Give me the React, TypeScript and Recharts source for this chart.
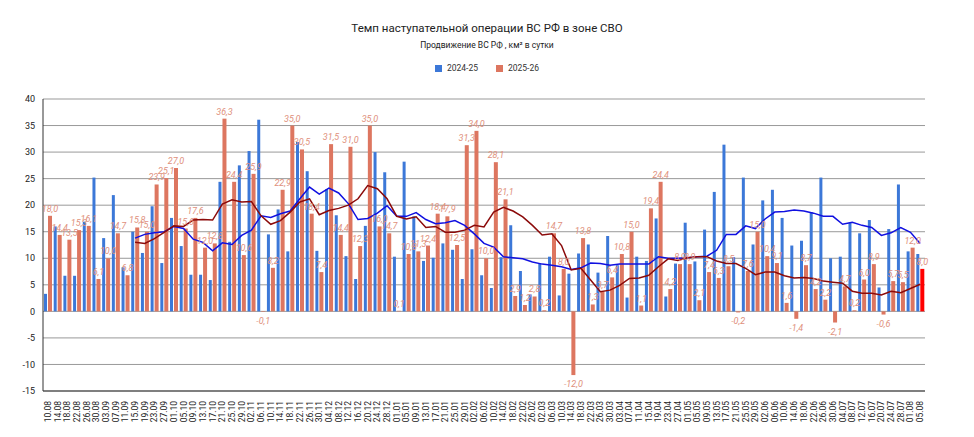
import React from "react";
import { ComposedChart, Bar, Line, XAxis, YAxis, CartesianGrid, LabelList } from "recharts";

const dates = ["10.08","14.08","18.08","22.08","26.08","30.08","03.09","07.09","11.09","15.09","19.09","23.09","27.09","01.10","05.10","09.10","13.10","17.10","21.10","25.10","29.10","02.11","06.11","10.11","14.11","18.11","22.11","26.11","30.11","04.12","08.12","12.12","16.12","20.12","24.12","28.12","01.01","05.01","09.01","13.01","17.01","21.01","25.01","29.01","02.02","06.02","10.02","14.02","18.02","22.02","26.02","02.03","06.03","10.03","14.03","18.03","22.03","26.03","30.03","03.04","07.04","11.04","15.04","19.04","23.04","27.04","01.05","05.05","09.05","13.05","17.05","21.05","25.05","29.05","02.06","06.06","10.06","14.06","18.06","22.06","26.06","30.06","04.07","08.07","12.07","16.07","20.07","24.07","28.07","01.08","05.08"];

const blue = [3.3,16.0,6.7,6.7,16.9,25.2,13.8,21.9,8.3,15.0,11.0,19.8,9.1,17.6,12.3,6.9,6.9,5.9,24.4,13.1,27.5,30.2,36.1,14.5,19.2,11.3,31.9,26.4,11.4,23.0,18.1,10.4,6.1,16.1,30.0,26.2,10.3,28.2,17.9,9.5,10.1,12.8,11.6,6.1,11.7,6.8,4.4,10.2,16.2,7.6,3.2,9.1,10.3,3.0,7.1,10.9,12.6,7.3,14.2,8.7,2.6,10.3,9.5,17.5,2.8,9.0,16.7,9.4,15.4,22.5,31.4,10.2,25.2,12.6,20.9,22.9,17.6,12.4,13.3,18.7,25.2,10.0,10.3,16.7,14.7,17.2,4.5,15.5,23.9,11.3,10.8];

const red = [18.0,14.4,13.5,15.3,16.1,6.1,10.0,14.7,6.8,15.8,15.0,23.9,25.1,27.0,15.6,17.6,12.0,12.8,36.3,24.4,10.6,25.9,-0.1,8.2,22.9,35.0,30.5,18.4,7.4,31.5,14.4,31.0,12.3,35.0,16.0,14.7,0.1,10.8,11.3,12.4,18.4,17.9,12.5,31.3,34.0,10.0,28.1,21.1,2.9,1.2,2.8,0.2,14.7,8.0,-12.0,13.8,1.3,3.7,6.4,10.8,15.0,1.1,19.4,24.4,4.2,8.9,8.9,2.1,7.4,6.3,8.5,-0.2,7.6,15.0,10.4,9.1,1.6,-1.4,8.7,4.2,2.2,-2.1,4.7,0.2,6.0,8.9,-0.6,5.7,5.5,12.0,8.0];

const maBlue = [null,null,null,null,null,null,null,null,null,13.8,14.5,14.8,15.0,16.0,15.6,13.6,13.0,11.4,12.9,12.6,14.3,15.3,18.0,17.7,18.4,18.9,21.2,23.4,22.1,23.2,22.3,20.3,17.3,17.5,18.5,19.9,17.9,17.9,18.6,17.3,16.5,16.7,17.1,16.2,14.6,12.8,12.1,10.3,10.1,9.9,9.3,8.9,8.7,8.4,7.9,8.2,9.1,9.0,8.7,8.9,8.9,8.9,8.9,10.3,10.0,10.0,10.1,10.3,10.4,11.5,14.5,14.5,16.1,15.6,17.4,18.7,18.8,19.1,18.9,18.5,17.9,17.9,16.4,16.8,16.2,15.8,14.3,14.8,15.8,14.9,12.8];

const maRed = [null,null,null,null,null,null,null,null,null,13.0,12.8,13.7,14.9,16.1,16.0,17.2,17.3,17.2,20.2,21.0,20.6,20.7,18.0,16.4,17.1,18.7,20.6,21.2,18.2,19.0,19.4,20.0,21.2,23.7,23.1,21.2,17.9,17.4,17.8,15.8,16.0,14.9,14.9,15.3,16.2,15.9,18.7,19.6,18.9,17.8,16.2,14.4,14.6,12.4,7.8,8.1,5.9,3.7,4.0,4.9,6.2,6.3,6.8,8.4,9.9,9.6,10.1,10.3,10.3,9.5,9.0,9.0,8.1,6.9,7.4,7.4,6.7,6.3,6.4,6.2,5.7,5.5,5.3,3.8,3.4,3.4,3.1,3.8,3.5,4.3,5.1];

const yTicks = [-15,-10,-5,0,5,10,15,20,25,30,35,40];

const data = dates.map((d, i) => ({ d, blue: blue[i], red: red[i], maBlue: maBlue[i], maRed: maRed[i], last: i === dates.length - 1 }));

const fmt = (v: number) => v.toFixed(1).replace(".", ",");

const RedLabel = (p: any) => {
  const { x, y, width, height, value } = p;
  if (value == null) return null;
  const top = Math.min(y, y + height);
  const bottom = Math.max(y, y + height);
  const cx = x + width / 2;
  const ty = value < 0 ? bottom + 12 : top - 4;
  return (
    <text x={cx} y={ty} textAnchor="middle" fontSize={9} fontStyle="italic" fill="#e0907c" fontFamily="Roboto, sans-serif">
      {fmt(value)}
    </text>
  );
};

const RedBar = (p: any) => {
  const { x, y, width, height, payload } = p;
  const top = Math.min(y, y + height);
  const h = Math.abs(height);
  return <rect x={x} y={top} width={width} height={h} fill={payload.last ? "#ff0000" : "#dd7660"} />;
};

export default function App() {
  return (
    <div style={{ position: "absolute", left: 0, top: 0, width: 974, height: 437, background: "#fff", fontFamily: "Roboto, sans-serif" }}>
      <div style={{ position: "absolute", top: 21, width: "100%", textAlign: "center", fontSize: 11.5, color: "#222" }}>
        Темп наступательной операции ВС РФ в зоне СВО
      </div>
      <div style={{ position: "absolute", top: 40, width: "100%", textAlign: "center", fontSize: 8.5, color: "#222" }}>
        Продвижение ВС РФ , км² в сутки
      </div>
      <div style={{ position: "absolute", top: 63, width: "100%", display: "flex", justifyContent: "center", gap: 18, fontSize: 8.5, color: "#333" }}>
        <span style={{ display: "flex", alignItems: "center", gap: 5 }}>
          <span style={{ width: 7, height: 7, background: "#3c78d8", display: "inline-block" }} />2024-25
        </span>
        <span style={{ display: "flex", alignItems: "center", gap: 5 }}>
          <span style={{ width: 7, height: 7, background: "#dd7660", display: "inline-block" }} />2025-26
        </span>
      </div>
      <div style={{ position: "absolute", left: 0, top: 0 }}>
        <ComposedChart width={974} height={437} data={data} margin={{ top: 99, right: 49, left: 10, bottom: 5 }} barGap={1} barCategoryGap="25%">
          <CartesianGrid vertical={false} stroke="#999" strokeWidth={1} />
          <XAxis dataKey="d" interval={0} angle={-90} textAnchor="end" height={41} tick={{ fontSize: 8.5, fill: "#222" }} tickLine={false} axisLine={{ stroke: "#333" }} dx={-3} dy={2} />
          <YAxis domain={[-15, 40]} ticks={yTicks} width={33} tick={{ fontSize: 9, fill: "#222" }} tickLine={false} axisLine={{ stroke: "#333" }} />
          <Bar dataKey="blue" fill="#3c78d8" barSize={3} isAnimationActive={false} />
          <Bar dataKey="red" fill="#dd7660" barSize={4} shape={RedBar} isAnimationActive={false}>
            <LabelList dataKey="red" content={RedLabel} />
          </Bar>
          <Line dataKey="maBlue" stroke="#1010e0" strokeWidth={1.5} dot={false} isAnimationActive={false} />
          <Line dataKey="maRed" stroke="#8b0a0a" strokeWidth={1.5} dot={false} isAnimationActive={false} />
        </ComposedChart>
      </div>
    </div>
  );
}
